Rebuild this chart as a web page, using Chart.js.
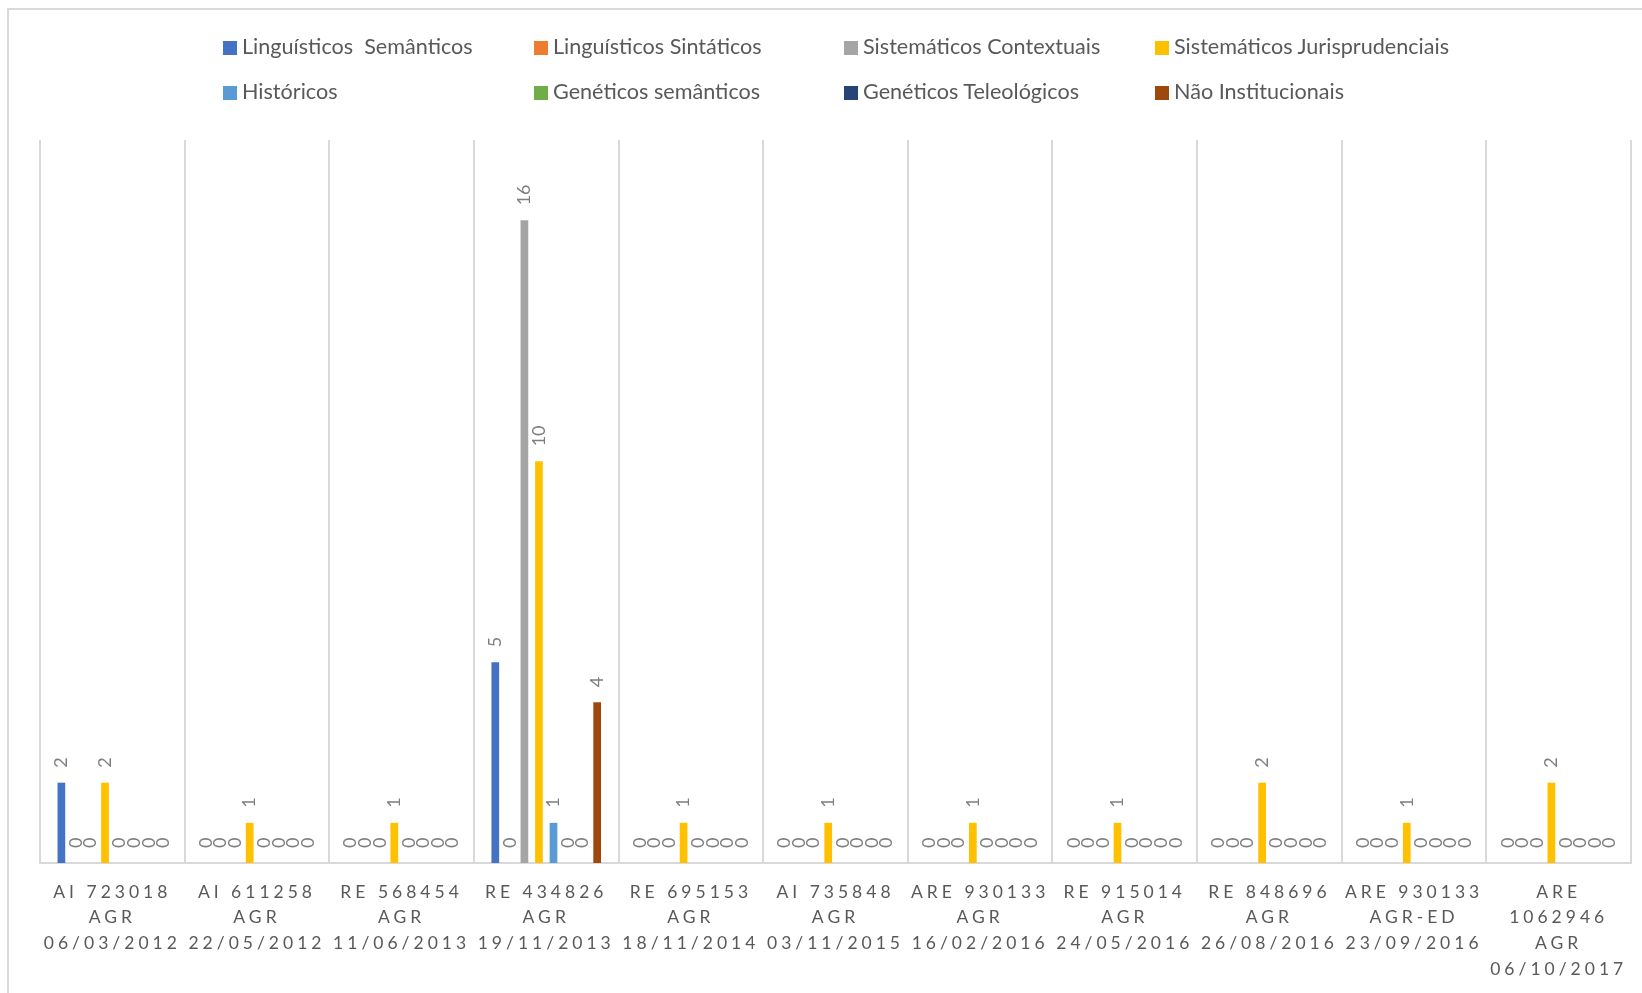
<!DOCTYPE html>
<html>
<head>
<meta charset="utf-8">
<script src="https://cdn.jsdelivr.net/npm/chart.js@4/dist/chart.umd.min.js"></script>
<style>
    html, body { margin: 0; padding: 0; background: #fff; }
    #wrap { position: relative; width: 1642px; height: 993px; overflow: hidden; }
    #frame { position: absolute; left: 7px; top: 8px; width: 1700px; height: 1100px; border: 2px solid #D9D9D9; }
    #chart { position: absolute; left: 0; top: 0; }
    .leg { position: absolute; font-family: Lato, 'Open Sans', sans-serif; font-size: 21.6px; color: #595959; white-space: pre; line-height: 20px; }
    .leg i { display: inline-block; width: 14px; height: 14px; margin-right: 5px; vertical-align: -1px; }
</style>
</head>
<body>
<div id="wrap">
    <div id="frame"></div>
    <canvas id="chart" width="1642" height="993"></canvas>
    <div id="legend"></div>
</div>
<script>
// Données du graphique
const categories = [
    ['AI 723018', 'AGR', '06/03/2012'],
    ['AI 611258', 'AGR', '22/05/2012'],
    ['RE 568454', 'AGR', '11/06/2013'],
    ['RE 434826', 'AGR', '19/11/2013'],
    ['RE 695153', 'AGR', '18/11/2014'],
    ['AI 735848', 'AGR', '03/11/2015'],
    ['ARE 930133', 'AGR', '16/02/2016'],
    ['RE 915014', 'AGR', '24/05/2016'],
    ['RE 848696', 'AGR', '26/08/2016'],
    ['ARE 930133', 'AGR-ED', '23/09/2016'],
    ['ARE', '1062946', 'AGR', '06/10/2017']
];

const seriesNames = [
    'Linguísticos  Semânticos',
    'Linguísticos Sintáticos',
    'Sistemáticos Contextuais',
    'Sistemáticos Jurisprudenciais',
    'Históricos',
    'Genéticos semânticos',
    'Genéticos Teleológicos',
    'Não Institucionais'
];

const seriesColors = ['#4472C4', '#ED7D31', '#A5A5A5', '#FFC000', '#5B9BD5', '#70AD47', '#264478', '#9E480E'];

const linguisticosSemanticos = [2, 0, 0, 5, 0, 0, 0, 0, 0, 0, 0];
const linguisticosSintaticos = [0, 0, 0, 0, 0, 0, 0, 0, 0, 0, 0];
const sistematicosContextuais = [0, 0, 0, 16, 0, 0, 0, 0, 0, 0, 0];
const sistematicosJurisprudenciais = [2, 1, 1, 10, 1, 1, 1, 1, 2, 1, 2];
const historicos = [0, 0, 0, 1, 0, 0, 0, 0, 0, 0, 0];
const geneticosSemanticos = [0, 0, 0, 0, 0, 0, 0, 0, 0, 0, 0];
const geneticosTeleologicos = [0, 0, 0, 0, 0, 0, 0, 0, 0, 0, 0];
const naoInstitucionais = [0, 0, 0, 4, 0, 0, 0, 0, 0, 0, 0];

const seriesValues = [
    linguisticosSemanticos, linguisticosSintaticos, sistematicosContextuais, sistematicosJurisprudenciais,
    historicos, geneticosSemanticos, geneticosTeleologicos, naoInstitucionais
];

const yMax = 18;

// Légende en grille (4 colonnes, 2 lignes)
const legendEl = document.getElementById('legend');
const legendCols = [223, 534, 844, 1155];
const legendRows = [36, 81];
seriesNames.forEach((name, i) => {
    const item = document.createElement('div');
    item.className = 'leg';
    item.style.left = legendCols[i % 4] + 'px';
    item.style.top = legendRows[Math.floor(i / 4)] + 'px';
    item.innerHTML = '<i style="background:' + seriesColors[i] + '"></i>' + name;
    legendEl.appendChild(item);
});

// Étiquettes de données verticales
const verticalLabels = {
    id: 'verticalLabels',
    beforeDraw(chart) {
        chart.ctx.letterSpacing = '4px';
    },
    afterDatasetsDraw(chart) {
        const ctx = chart.ctx;
        ctx.save();
        ctx.letterSpacing = '0px';
        ctx.font = '18px Lato, "Open Sans", sans-serif';
        ctx.fillStyle = '#7F7F7F';
        ctx.textAlign = 'left';
        ctx.textBaseline = 'middle';
        chart.data.datasets.forEach((ds, di) => {
            const meta = chart.getDatasetMeta(di);
            meta.data.forEach((bar, idx) => {
                ctx.save();
                ctx.translate(bar.x, bar.y - 15);
                ctx.rotate(-Math.PI / 2);
                ctx.fillText(String(ds.data[idx]), 0, 0);
                ctx.restore();
            });
        });
        ctx.restore();
    }
};

const ctx = document.getElementById('chart');
new Chart(ctx, {
    type: 'bar',
    data: {
        labels: categories,
        datasets: seriesNames.map((name, i) => ({
            label: name,
            data: seriesValues[i],
            backgroundColor: seriesColors[i],
            borderWidth: 0,
            barPercentage: 0.53,
            categoryPercentage: 0.805
        }))
    },
    options: {
        responsive: false,
        animation: false,
        layout: {
            padding: { top: 140, left: 40, right: 11, bottom: 0 }
        },
        plugins: {
            legend: { display: false },
            tooltip: { enabled: false }
        },
        scales: {
            x: {
                grid: {
                    offset: true,
                    color: '#D9D9D9',
                    lineWidth: 2,
                    drawTicks: false
                },
                border: { color: '#D9D9D9', width: 2 },
                ticks: {
                    color: '#595959',
                    font: { family: 'Lato, "Open Sans", sans-serif', size: 17.5, lineHeight: 1.47 },
                    padding: 16,
                    maxRotation: 0,
                    autoSkip: false
                },
                afterFit(scale) {
                    scale.height = 130;
                }
            },
            y: {
                display: false,
                min: 0,
                max: yMax
            }
        }
    },
    plugins: [verticalLabels]
});
</script>
</body>
</html>
